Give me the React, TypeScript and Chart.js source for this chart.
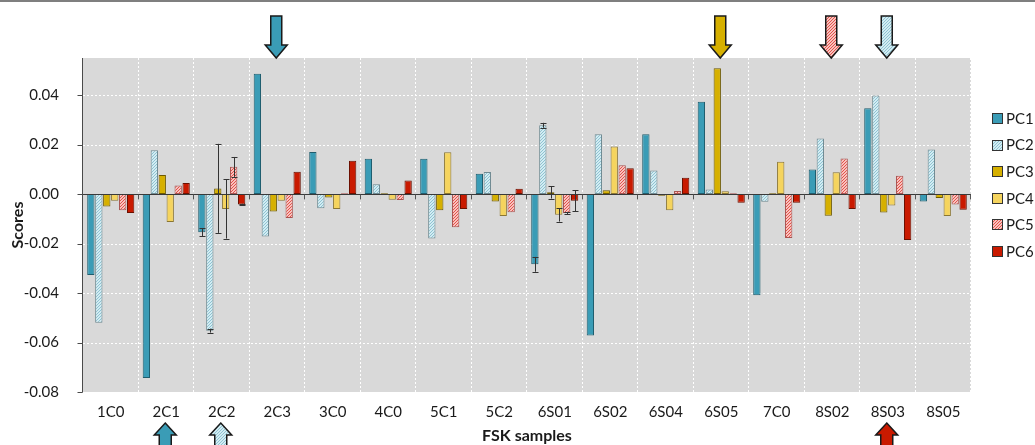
import React, { useEffect, useRef } from 'react';
import { Chart, registerables } from 'chart.js';
Chart.register(...registerables);

const FONT = 'Lato, "Open Sans", sans-serif';

const categories = ['1C0', '2C1', '2C2', '2C3', '3C0', '4C0', '5C1', '5C2', '6S01', '6S02', '6S04', '6S05', '7C0', '8S02', '8S03', '8S05'];
const seriesNames = ['PC1', 'PC2', 'PC3', 'PC4', 'PC5', 'PC6'];

const pc1 = [-0.0327, -0.0743, -0.0154, 0.0486, 0.0170, 0.0143, 0.0143, 0.0082, -0.0284, -0.0572, 0.0242, 0.0373, -0.0409, 0.0099, 0.0347, -0.0030];
const pc2 = [-0.0520, 0.0177, -0.0552, -0.0171, -0.0057, 0.0040, -0.0180, 0.0089, 0.0278, 0.0242, 0.0095, 0.0018, -0.0031, 0.0225, 0.0398, 0.0180];
const pc3 = [-0.0050, 0.0077, 0.0023, -0.0070, -0.0014, 0.0003, -0.0065, -0.0030, 0.0007, 0.0015, -0.0007, 0.0509, 0.0003, -0.0088, -0.0074, -0.0016];
const pc4 = [-0.0027, -0.0113, -0.0060, -0.0027, -0.0060, -0.0023, 0.0169, -0.0089, -0.0084, 0.0192, -0.0065, 0.0011, 0.0131, 0.0088, -0.0046, -0.0089];
const pc5 = [-0.0065, 0.0035, 0.0110, -0.0097, 0.0003, -0.0024, -0.0134, -0.0073, -0.0077, 0.0117, 0.0012, 0.0003, -0.0178, 0.0144, 0.0074, -0.0042];
const pc6 = [-0.0077, 0.0045, -0.0042, 0.0090, 0.0135, 0.0055, -0.0060, 0.0022, -0.0027, 0.0104, 0.0066, -0.0035, -0.0035, -0.0060, -0.0186, -0.0063];

// error bar half-lengths (0 = none)
const err1 = [0, 0, 0.0017, 0, 0, 0, 0, 0, 0.0030, 0, 0, 0, 0, 0, 0, 0];
const err2 = [0, 0, 0.0008, 0, 0, 0, 0, 0, 0.0010, 0, 0, 0, 0, 0, 0, 0];
const err3 = [0, 0, 0.0180, 0, 0, 0, 0, 0, 0.0025, 0, 0, 0, 0, 0, 0, 0];
const err4 = [0, 0, 0.0120, 0, 0, 0, 0, 0, 0.0027, 0, 0, 0, 0, 0, 0, 0];
const err5 = [0, 0, 0.0040, 0, 0, 0, 0, 0, 0.0005, 0, 0, 0, 0, 0, 0, 0];
const err6 = [0, 0, 0.0003, 0, 0, 0, 0, 0, 0.0043, 0, 0, 0, 0, 0, 0, 0];

const yTickStep = 0.02;
const yMin = -0.08;
const yMax = 0.055;

const topArrowCategories = ['2C3', '6S05', '8S02', '8S03'];
const topArrowSeries = [0, 2, 4, 1];
const bottomArrowCategories = ['2C1', '2C2', '8S03'];
const bottomArrowSeries = [0, 1, 5];

function makePattern(base: string, stripe: string) {
  const c = document.createElement('canvas');
  c.width = 3; c.height = 3;
  const g = c.getContext('2d')!;
  g.fillStyle = base; g.fillRect(0, 0, 3, 3);
  g.fillStyle = stripe;
  // diagonal pixels
  g.fillRect(2, 0, 1, 1);
  g.fillRect(1, 1, 1, 1);
  g.fillRect(0, 2, 1, 1);
  return g.createPattern(c, 'repeat')!;
}

export default function App() {
  const ref = useRef<HTMLCanvasElement>(null);
  useEffect(() => {
    document.body.style.margin = '0';
    const canvas = ref.current!;
    const p2 = makePattern('#d2ecf3', '#8fc3d1');
    const p5 = makePattern('#f9c2bd', '#e2524c');
    const fills: any[] = ['#3a9cb6', p2, '#d6b000', '#f5d45e', p5, '#c91a00'];
    const borders = ['#1f5d6e', '#6f8a92', '#6e5a00', '#8a7632', '#a85452', '#6a1000'];
    const values = [pc1, pc2, pc3, pc4, pc5, pc6];
    const errors = [err1, err2, err3, err4, err5, err6];

    const drawPlugin = {
      id: 'custom',
      beforeDraw(chart: any) {
        const { ctx, chartArea: a } = chart;
        ctx.save();
        ctx.fillStyle = '#d9d9d9';
        ctx.fillRect(a.left, a.top, a.width, a.height);
        ctx.restore();
      },
      beforeDatasetsDraw(chart: any) {
        const { ctx, chartArea: a, scales } = chart;
        const y = scales.y;
        ctx.save();
        ctx.strokeStyle = '#ffffff';
        ctx.lineWidth = 1;
        ctx.setLineDash([2, 2]);
        for (const t of y.ticks) {
          if (Math.abs(t.value) < 1e-9) continue;
          const py = Math.round(y.getPixelForValue(t.value)) + 0.5;
          ctx.beginPath(); ctx.moveTo(a.left, py); ctx.lineTo(a.right, py); ctx.stroke();
        }
        const n = categories.length;
        const w = a.width / n;
        for (let i = 1; i <= n; i++) {
          const px = Math.round(a.left + i * w) - 0.5;
          ctx.beginPath(); ctx.moveTo(px, a.top); ctx.lineTo(px, a.bottom); ctx.stroke();
        }
        ctx.restore();
      },
      afterDatasetsDraw(chart: any) {
        const { ctx, chartArea: a, scales } = chart;
        const y = scales.y;
        ctx.save();
        const zy = Math.round(y.getPixelForValue(0)) + 0.5;
        ctx.strokeStyle = '#3a3a3a';
        ctx.lineWidth = 1;
        ctx.beginPath(); ctx.moveTo(a.left, zy); ctx.lineTo(a.right, zy); ctx.stroke();
        const n = categories.length;
        const w = a.width / n;
        ctx.strokeStyle = '#555';
        for (let i = 1; i <= n; i++) {
          const px = Math.round(a.left + i * w) - 0.5;
          ctx.beginPath(); ctx.moveTo(px, zy); ctx.lineTo(px, zy + 5); ctx.stroke();
        }
        const lx = Math.round(a.left) - 0.5;
        ctx.strokeStyle = '#4a4a4a';
        ctx.beginPath(); ctx.moveTo(lx, a.top); ctx.lineTo(lx, a.bottom + 0.5); ctx.stroke();
        for (const t of y.ticks) {
          const py = Math.round(y.getPixelForValue(t.value)) + 0.5;
          ctx.beginPath(); ctx.moveTo(lx - 5, py); ctx.lineTo(lx, py); ctx.stroke();
        }
        ctx.strokeStyle = '#333';
        errors.forEach((errs, d) => {
          const meta = chart.getDatasetMeta(d);
          errs.forEach((e, i) => {
            if (!e) return;
            const bar = meta.data[i];
            const v = values[d][i];
            const x = Math.round(bar.x) + 0.5;
            const y1 = y.getPixelForValue(v + e);
            const y2 = y.getPixelForValue(v - e);
            ctx.beginPath();
            ctx.moveTo(x, y1); ctx.lineTo(x, y2);
            ctx.moveTo(x - 3, Math.round(y1) + 0.5); ctx.lineTo(x + 3, Math.round(y1) + 0.5);
            ctx.moveTo(x - 3, Math.round(y2) + 0.5); ctx.lineTo(x + 3, Math.round(y2) + 0.5);
            ctx.stroke();
          });
        });
        ctx.restore();
      },
      afterDraw(chart: any) {
        const { ctx, chartArea: a, scales, width } = chart;
        const x = scales.x;
        ctx.save();
        ctx.fillStyle = '#7f7f7f';
        ctx.fillRect(0, 0, width, 2);
        ctx.font = `15px ${FONT}`;
        ctx.textBaseline = 'middle';
        ctx.textAlign = 'left';
        seriesNames.forEach((name, i) => {
          const cy = 118 + i * 26.6;
          ctx.fillStyle = fills[i];
          ctx.fillRect(992, Math.round(cy - 5), 10, 10);
          ctx.strokeStyle = '#333';
          ctx.lineWidth = 1;
          ctx.strokeRect(992.5, Math.round(cy - 5) + 0.5, 10, 10);
          ctx.fillStyle = '#1a1a1a';
          ctx.fillText(name, 1006, cy + 1);
        });
        const drawArrow = (cx: number, down: boolean, fill: any) => {
          ctx.beginPath();
          if (down) {
            const top = 16, hb = 45, tip = a.top;
            ctx.moveTo(cx - 5.5, top); ctx.lineTo(cx + 5.5, top); ctx.lineTo(cx + 5.5, hb);
            ctx.lineTo(cx + 11, hb); ctx.lineTo(cx, tip); ctx.lineTo(cx - 11, hb);
            ctx.lineTo(cx - 5.5, hb); ctx.closePath();
          } else {
            const tip = 423, hb = 435, bot = 447;
            ctx.moveTo(cx, tip); ctx.lineTo(cx + 11, hb); ctx.lineTo(cx + 6, hb);
            ctx.lineTo(cx + 6, bot); ctx.lineTo(cx - 6, bot); ctx.lineTo(cx - 6, hb);
            ctx.lineTo(cx - 11, hb); ctx.closePath();
          }
          ctx.fillStyle = fill;
          ctx.fill();
          ctx.strokeStyle = '#1a1a1a';
          ctx.lineWidth = 1.5;
          ctx.stroke();
        };
        topArrowCategories.forEach((c, i) => {
          drawArrow(x.getPixelForValue(categories.indexOf(c)) - 1, true, fills[topArrowSeries[i]]);
        });
        bottomArrowCategories.forEach((c, i) => {
          drawArrow(x.getPixelForValue(categories.indexOf(c)) - 1, false, fills[bottomArrowSeries[i]]);
        });
        ctx.restore();
      },
    };

    const chart = new Chart(canvas, {
      type: 'bar',
      data: {
        labels: categories,
        datasets: values.map((v, i) => ({
          label: seriesNames[i],
          data: v,
          backgroundColor: fills[i],
          borderColor: borders[i],
          borderWidth: 1,
          borderSkipped: false,
          barPercentage: 0.92,
          categoryPercentage: 0.86,
        })),
      },
      options: {
        animation: false,
        responsive: true,
        maintainAspectRatio: false,
        layout: { padding: { top: 58, right: 64, bottom: 0, left: 0 } },
        plugins: { legend: { display: false }, tooltip: { enabled: false } },
        scales: {
          x: {
            grid: { display: false },
            border: { display: false },
            ticks: { font: { family: FONT, size: 15 }, color: '#1a1a1a', padding: 3, maxRotation: 0, autoSkip: false },
            title: { display: true, text: 'FSK samples', font: { family: FONT, size: 16, weight: 'bold' }, color: '#1a1a1a', padding: { top: 0, bottom: 0 } },
            afterFit: (s: any) => { s.height = 53; },
          },
          y: {
            min: yMin,
            max: yMax,
            grid: { display: false },
            border: { display: false },
            ticks: {
              stepSize: yTickStep,
              font: { family: FONT, size: 15 },
              color: '#1a1a1a',
              padding: 16,
              callback: (v: any) => Number(v).toFixed(2),
            },
            afterBuildTicks: (s: any) => {
              s.ticks = s.ticks.filter((t: any) => Math.abs(t.value / yTickStep - Math.round(t.value / yTickStep)) < 1e-6);
            },
            title: { display: true, text: 'Scores', font: { family: FONT, size: 16, weight: 'bold' }, color: '#1a1a1a', padding: { top: 8, bottom: 0 } },
            afterFit: (s: any) => { s.width = 83; },
          },
        },
      },
      plugins: [drawPlugin],
    });
    return () => chart.destroy();
  }, []);
  return (
    <div style={{ width: 1035, height: 445, position: 'relative' }}>
      <canvas ref={ref} style={{ display: 'block' }} />
    </div>
  );
}
